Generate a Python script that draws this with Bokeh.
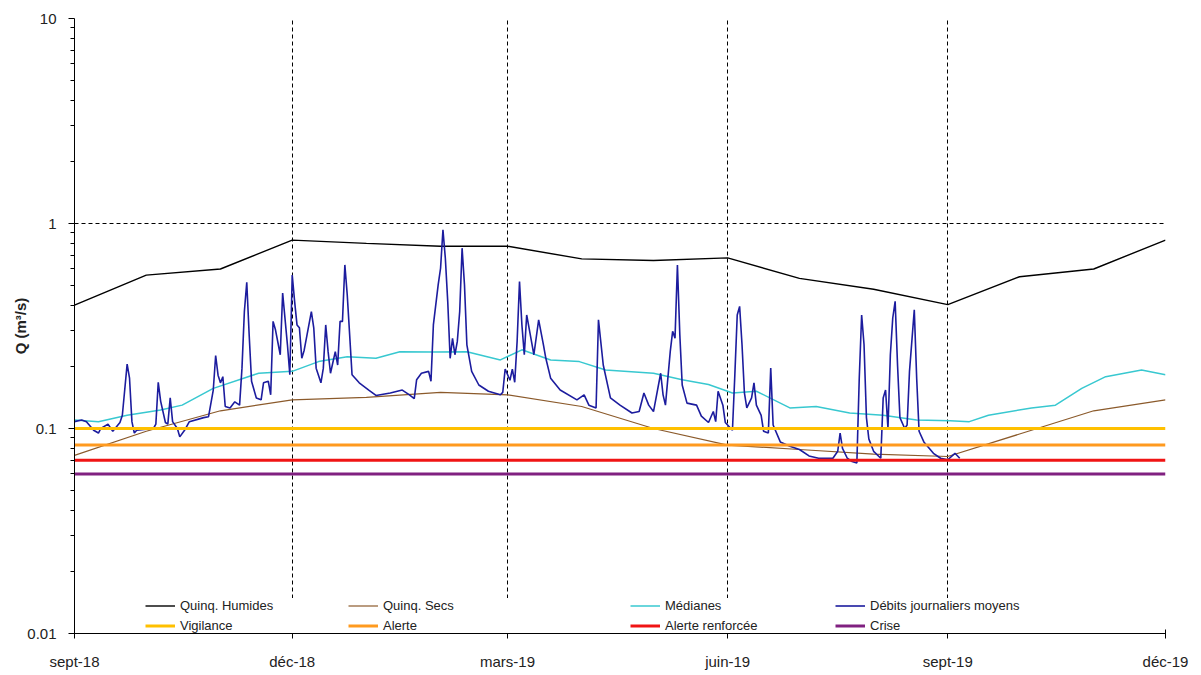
import pandas as pd
from bokeh.plotting import figure
from bokeh.models import Range1d, FixedTicker, NumeralTickFormatter, Legend, LegendItem
from bokeh.embed import file_html
from bokeh.resources import INLINE

# ---------------- data ----------------
START = pd.Timestamp("2018-09-01")
END = pd.Timestamp("2019-12-01")

mois = ["2018-09-01", "2018-10-01", "2018-11-01", "2018-12-01", "2019-01-01", "2019-02-01",
        "2019-03-01", "2019-04-01", "2019-05-01", "2019-06-01", "2019-07-01", "2019-08-01",
        "2019-09-01", "2019-10-01", "2019-11-01", "2019-12-01"]
quinq_humides = [0.40, 0.56, 0.60, 0.83, 0.80, 0.775, 0.775, 0.672, 0.66, 0.68, 0.54, 0.478,
                 0.402, 0.55, 0.60, 0.83]
quinq_secs = [0.074, 0.097, 0.122, 0.138, 0.142, 0.150, 0.146, 0.128, 0.100, 0.083, 0.079, 0.075,
              0.073, 0.094, 0.122, 0.138]

# médianes : jours depuis le 1er sept. 2018
med_jours = [0, 10, 22, 36, 45, 58, 77, 91, 102, 114, 126, 136, 150, 164, 178, 187, 199, 211,
             222, 242, 254, 265, 275, 285, 299, 310, 324, 338, 352, 366, 374, 382, 400, 410,
             421, 431, 446, 456]
med_q = [0.110, 0.108, 0.116, 0.123, 0.130, 0.157, 0.186, 0.190, 0.212, 0.224, 0.220, 0.237,
         0.236, 0.237, 0.216, 0.242, 0.216, 0.212, 0.193, 0.186, 0.173, 0.164, 0.149, 0.152,
         0.126, 0.128, 0.119, 0.116, 0.110, 0.109, 0.108, 0.116, 0.126, 0.130, 0.157, 0.179,
         0.193, 0.183]

# débits journaliers moyens : jours depuis le 1er sept. 2018
deb_jours = [0, 3, 5, 8, 10, 11, 14, 16, 19, 20, 22, 23, 24, 25, 26, 33, 34, 35, 36, 38, 39, 40,
             41, 43, 44, 46, 48, 54, 56, 58, 59, 60, 61, 62, 63, 65, 67, 69, 70, 71, 72, 73, 74,
             76, 78, 79, 81, 82, 83, 84, 86, 87, 89, 90, 91, 92, 93, 94, 95, 96, 99, 100, 101,
             103, 104, 105, 106, 107, 109, 110, 111, 112, 113, 114, 115, 116, 119, 123, 126,
             132, 137, 140, 142, 143, 145, 148, 149, 150, 152, 153, 154, 155, 156, 157, 158,
             159, 160, 161, 162, 163, 164, 166, 169, 173, 178, 179, 180, 182, 183, 184, 185,
             186, 187, 188, 189, 191, 192, 194, 196, 197, 199, 203, 210, 213, 215, 218, 219,
             221, 224, 228, 233, 236, 238, 240, 242, 245, 246, 247, 249, 250, 251, 252, 253,
             254, 256, 260, 262, 265, 267, 268, 269, 271, 272, 275, 276, 277, 278, 279, 280,
             281, 283, 284, 285, 287, 288, 290, 291, 292, 295, 299, 303, 307, 311, 317, 319,
             320, 321, 323, 325, 327, 328, 329, 330, 331, 332, 334, 337, 338, 339, 340, 341,
             342, 343, 344, 345, 347, 348, 349, 351, 352, 353, 355, 359, 362, 365, 368, 370]
deb_q = [0.108, 0.110, 0.108, 0.098, 0.095, 0.100, 0.105, 0.097, 0.107, 0.116, 0.206, 0.176,
         0.108, 0.095, 0.098, 0.100, 0.105, 0.168, 0.136, 0.107, 0.105, 0.141, 0.108, 0.100,
         0.091, 0.098, 0.108, 0.113, 0.114, 0.154, 0.227, 0.182, 0.167, 0.179, 0.128, 0.126,
         0.135, 0.130, 0.197, 0.372, 0.517, 0.287, 0.170, 0.141, 0.138, 0.167, 0.170, 0.146,
         0.333, 0.303, 0.229, 0.458, 0.256, 0.183, 0.561, 0.417, 0.320, 0.310, 0.220, 0.241,
         0.372, 0.310, 0.197, 0.167, 0.197, 0.320, 0.237, 0.186, 0.237, 0.204, 0.333, 0.333,
         0.628, 0.448, 0.287, 0.183, 0.167, 0.154, 0.145, 0.149, 0.154, 0.146, 0.140, 0.173,
         0.186, 0.190, 0.170, 0.320, 0.502, 0.605, 0.931, 0.677, 0.416, 0.220, 0.275, 0.229,
         0.266, 0.372, 0.758, 0.502, 0.256, 0.190, 0.163, 0.152, 0.146, 0.150, 0.195, 0.172,
         0.195, 0.168, 0.266, 0.521, 0.320, 0.229, 0.358, 0.266, 0.229, 0.339, 0.256, 0.220,
         0.176, 0.154, 0.138, 0.146, 0.130, 0.126, 0.339, 0.204, 0.141, 0.130, 0.119, 0.121,
         0.149, 0.130, 0.121, 0.186, 0.146, 0.130, 0.237, 0.298, 0.276, 0.628, 0.287, 0.163,
         0.133, 0.130, 0.115, 0.107, 0.121, 0.108, 0.152, 0.130, 0.107, 0.098, 0.183, 0.358,
         0.394, 0.256, 0.149, 0.126, 0.141, 0.167, 0.130, 0.116, 0.097, 0.095, 0.197, 0.104,
         0.086, 0.082, 0.079, 0.0735, 0.0716, 0.0716, 0.0774, 0.095, 0.080, 0.0716, 0.069,
         0.0678, 0.176, 0.358, 0.256, 0.113, 0.089, 0.0774, 0.0716, 0.141, 0.154, 0.100,
         0.229, 0.346, 0.417, 0.204, 0.113, 0.100, 0.104, 0.190, 0.379, 0.176, 0.097, 0.086,
         0.0757, 0.0716, 0.0704, 0.0757, 0.0716]

seuils_noms = ["Vigilance", "Alerte", "Alerte renforcée", "Crise"]
seuils_q = [0.1, 0.083, 0.07, 0.06]

tick_dates = ["2018-09-01", "2018-12-01", "2019-03-01", "2019-06-01", "2019-09-01", "2019-12-01"]
tick_labels = ["sept-18", "déc-18", "mars-19", "juin-19", "sept-19", "déc-19"]
y_ticks = [0.01, 0.1, 1, 10]

# ---------------- figure ----------------
FONT = "Liberation Sans"

def to_dates(days):
    return [START + pd.Timedelta(days=d) for d in days]

p = figure(width=1195, height=672, x_axis_type="datetime", y_axis_type="log",
           x_range=Range1d(START, END), y_range=Range1d(0.01, 10),
           output_backend="svg", toolbar_location=None,
           min_border_left=74, min_border_right=30, min_border_top=18, min_border_bottom=39)
p.outline_line_color = None
p.background_fill_color = "white"

tick_ms = [pd.Timestamp(d).value / 1e6 for d in tick_dates]
xt = FixedTicker(ticks=tick_ms)
p.xaxis.ticker = xt
p.xgrid.ticker = xt
p.xaxis.major_label_overrides = {t: l for t, l in zip(tick_ms, tick_labels)}

minor = [k * 10.0 ** e for e in (-2, -1, 0) for k in range(2, 10)]
yt = FixedTicker(ticks=y_ticks, minor_ticks=minor)
p.yaxis.ticker = yt
p.ygrid.ticker = FixedTicker(ticks=y_ticks)
p.yaxis.formatter = NumeralTickFormatter(format="0.[00]")

for ax in (p.xaxis, p.yaxis):
    ax.axis_line_color = "black"
    ax.major_tick_line_color = "black"
    ax.major_label_text_font = FONT
    ax.major_label_text_font_size = "15px"
    ax.major_label_text_color = "#222222"

p.xaxis.major_tick_in = 4
p.xaxis.major_tick_out = 5
p.xaxis.minor_tick_line_color = None
p.xaxis.major_label_standoff = 14

p.yaxis.major_tick_in = 0
p.yaxis.major_tick_out = 6
p.yaxis.minor_tick_in = 0
p.yaxis.minor_tick_out = 4
p.yaxis.minor_tick_line_color = "black"
p.yaxis.major_label_standoff = 12
p.yaxis.axis_label = "Q (m³/s)"
p.yaxis.axis_label_text_font = FONT
p.yaxis.axis_label_text_font_style = "bold"
p.yaxis.axis_label_text_font_size = "15px"
p.yaxis.axis_label_text_color = "#222222"
p.yaxis.axis_label_standoff = -5

for g in (p.xgrid, p.ygrid):
    g.grid_line_color = "black"
    g.grid_line_dash = "4 3"
    g.grid_line_width = 1
    g.grid_line_alpha = 1

r_hum = p.line(pd.to_datetime(mois), quinq_humides, line_color="black", line_width=1.4)
r_sec = p.line(pd.to_datetime(mois), quinq_secs, line_color="#8B5A2B", line_width=1.2)
r_med = p.line(to_dates(med_jours), med_q, line_color="#38C8D0", line_width=1.5)
r_deb = p.line(to_dates(deb_jours), deb_q, line_color="#1C1C9E", line_width=1.6)

seuil_cols = ["#FFC000", "#FF9A1F", "#F01414", "#802080"]
r_seuils = []
for nom, q, c in zip(seuils_noms, seuils_q, seuil_cols):
    r_seuils.append(p.line([START, END], [q, q], line_color=c, line_width=3))

# ---------------- legend (2 rows x 4 columns) ----------------
columns = [
    (("Quinq. Humides", r_hum), (seuils_noms[0], r_seuils[0]), 71, 162),
    (("Quinq. Secs", r_sec), (seuils_noms[1], r_seuils[1]), 274, 244),
    (("Médianes", r_med), (seuils_noms[2], r_seuils[2]), 556, 166),
    (("Débits journaliers moyens", r_deb), (seuils_noms[3], r_seuils[3]), 761, 20),
]
for a, b, lx, lw in columns:
    leg = Legend(items=[LegendItem(label=a[0], renderers=[a[1]]),
                        LegendItem(label=b[0], renderers=[b[1]])],
                 location=(lx, 0), orientation="vertical",
                 glyph_width=30, glyph_height=15, label_height=15, label_width=lw,
                 label_standoff=5, spacing=5, padding=1, margin=0,
                 background_fill_color="white", background_fill_alpha=1,
                 border_line_color=None,
                 label_text_font=FONT, label_text_font_size="13px",
                 label_text_color="#222222")
    p.add_layout(leg, "center")

open("out.html", "w").write(file_html(p, INLINE))
